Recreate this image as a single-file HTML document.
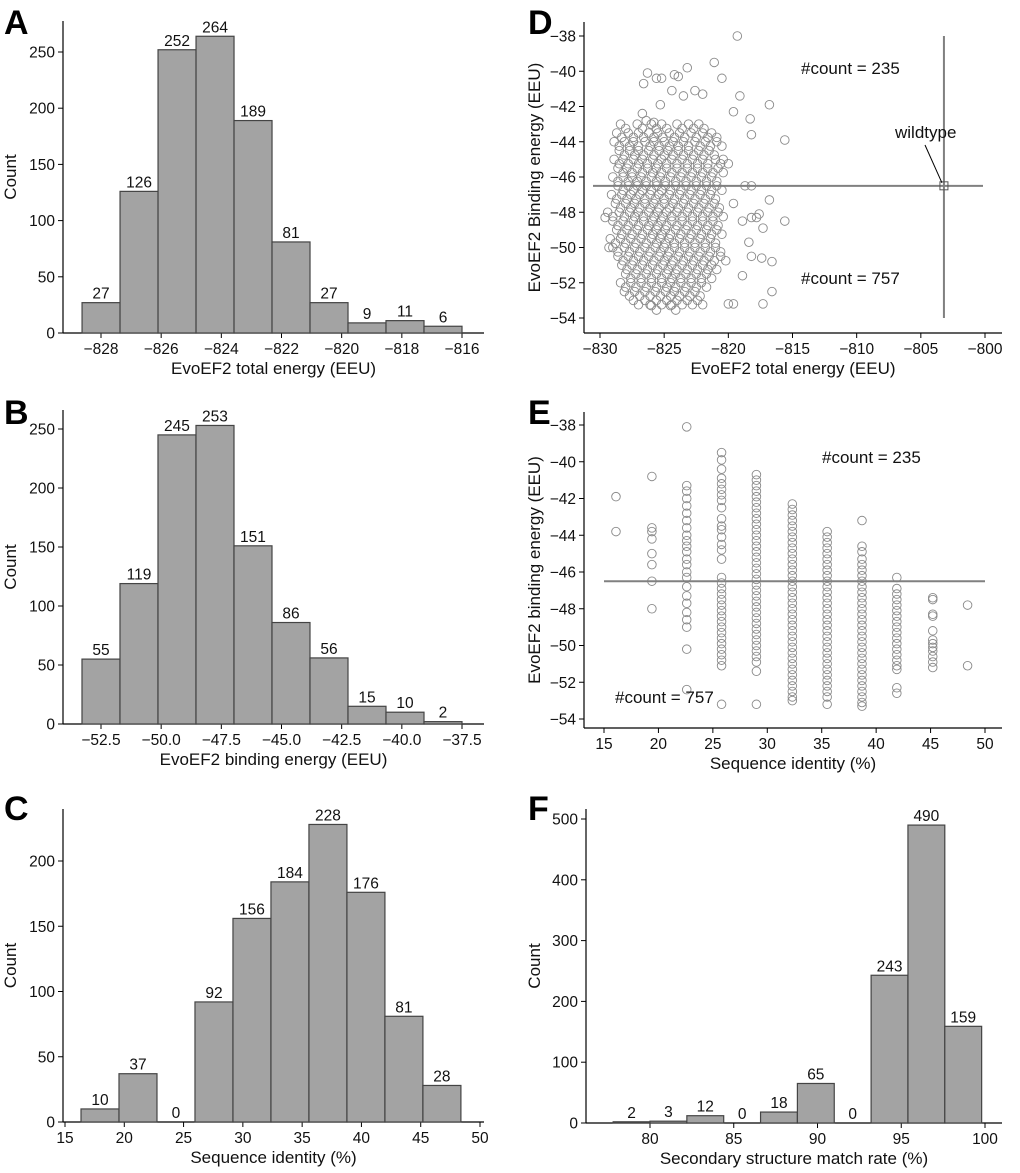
<!DOCTYPE html>
<html><head><meta charset="utf-8">
<style>
body{margin:0;background:#fff;}
svg{display:block;font-family:"Liberation Sans","DejaVu Sans",sans-serif;}
.t{font-size:15.5px;fill:#111;}
.al{font-size:17px;fill:#111;}
.pl{font-size:34px;font-weight:bold;fill:#000;}
</style></head>
<body>
<svg id="fig" width="1020" height="1173" viewBox="0 0 1020 1173">
<text class="pl" x="4" y="34">A</text>
<text class="pl" x="4" y="424">B</text>
<text class="pl" x="4" y="820">C</text>
<text class="pl" x="528" y="34">D</text>
<text class="pl" x="528" y="424">E</text>
<text class="pl" x="528" y="820">F</text>
</svg>
<script>
// ---- Data ----
const aCounts=[27,126,252,264,189,81,27,9,11,6];
const aStart=-828.63, aWidth=1.263;
const aXTicks=[-828,-826,-824,-822,-820,-818,-816];
const aYTicks=[0,50,100,150,200,250];
const bCounts=[55,119,245,253,151,86,56,15,10,2];
const bStart=-53.29, bWidth=1.579;
const bXTicks=[-52.5,-50.0,-47.5,-45.0,-42.5,-40.0,-37.5];
const bYTicks=[0,50,100,150,200,250];
const cCounts=[10,37,0,92,156,184,228,176,81,28];
const cStart=16.35, cWidth=3.204;
const cXTicks=[15,20,25,30,35,40,45,50];
const cYTicks=[0,50,100,150,200];
const fCounts=[2,3,12,0,18,65,0,243,490,159];
const fStart=77.8, fWidth=2.2;
const fXTicks=[80,85,90,95,100];
const fYTicks=[0,100,200,300,400,500];
const dXTicks=[-830,-825,-820,-815,-810,-805,-800];
const dYTicks=[-38,-40,-42,-44,-46,-48,-50,-52,-54];
const eXTicks=[15,20,25,30,35,40,45,50];
const eYTicks=[-38,-40,-42,-44,-46,-48,-50,-52,-54];
const dThreshold=-46.5, dWildX=-803.2;
const dBlobY=[-43.0,-43.5,-44.0,-44.5,-45.0,-45.5,-46.0,-46.5,-47.0,-47.5,-48.0,-48.5,-49.0,-49.5,-50.0,-50.5,-51.0,-51.5,-52.0,-52.5,-53.0,-53.3];
const dBlobX=[
[-828.4,-827.1,-826.0,-825.2,-824.0,-823.1,-822.3],
[-828.7,-827.8,-827.0,-826.2,-825.5,-824.6,-823.8,-822.9,-822.0,-821.3],
[-828.9,-828.1,-827.4,-826.5,-825.8,-825.0,-824.3,-823.5,-822.6,-821.8,-820.9],
[-828.5,-827.7,-827.0,-826.2,-825.4,-824.7,-823.9,-823.1,-822.3,-821.5],
[-828.9,-828.2,-827.4,-826.7,-825.9,-825.2,-824.4,-823.6,-822.8,-822.0,-821.0,-820.4],
[-828.6,-827.9,-827.1,-826.3,-825.6,-824.8,-824.0,-823.2,-822.4,-821.6,-820.8],
[-829.0,-828.2,-827.5,-826.8,-826.0,-825.3,-824.5,-823.7,-822.9,-822.1,-821.3],
[-828.6,-827.8,-827.1,-826.4,-825.6,-824.9,-824.1,-823.3,-822.5,-821.7,-820.9],
[-829.1,-828.3,-827.6,-826.9,-826.1,-825.4,-824.6,-823.8,-823.0,-822.2,-821.4],
[-828.8,-828.0,-827.3,-826.5,-825.8,-825.0,-824.3,-823.5,-822.7,-821.9,-821.1],
[-829.4,-828.5,-827.7,-827.0,-826.2,-825.5,-824.8,-824.0,-823.2,-822.4,-821.6,-820.8],
[-829.0,-828.2,-827.4,-826.6,-825.9,-825.2,-824.4,-823.6,-822.8,-822.0,-821.2],
[-828.7,-827.9,-827.1,-826.3,-825.6,-824.9,-824.1,-823.3,-822.5,-821.7,-820.9],
[-829.2,-828.4,-827.6,-826.8,-826.0,-825.3,-824.6,-823.8,-823.0,-822.2,-821.4],
[-829.0,-828.1,-827.3,-826.5,-825.7,-825.0,-824.2,-823.4,-822.6,-821.8,-821.0],
[-828.6,-827.8,-827.0,-826.2,-825.4,-824.7,-823.9,-823.1,-822.3,-821.5,-820.6],
[-828.3,-827.5,-826.7,-825.9,-825.1,-824.4,-823.6,-822.8,-822.0,-821.3],
[-828.0,-827.2,-826.4,-825.6,-824.8,-824.1,-823.3,-822.5,-821.7],
[-828.4,-827.6,-826.8,-826.0,-825.2,-824.5,-823.7,-822.9,-822.1],
[-828.1,-827.3,-826.5,-825.7,-824.9,-824.2,-823.4,-822.6],
[-827.4,-826.5,-825.6,-824.8,-824.0,-823.2,-822.4],
[-826.0,-824.5]];
const dOutX=[-819.3,-821.1,-823.2,-820.5,-819.1,-816.8,-818.3,-819.6,-818.2,-815.6,-816.8,-815.6,-818.9,-818.2,-817.8,-817.6,-817.3,-818.4,-818.2,-817.4,-816.6,-818.9,-816.6,-819.6,-817.3,-818.7,-818.2,-819.6,-826.3,-826.6,-825.6,-825.2,-824.2,-823.9,-824.4,-823.5,-822.6,-822.0,-825.3,-826.7,-826.4,-825.8,-829.6,-829.3,-820.0];
const dOutY=[-38.0,-39.5,-39.8,-40.4,-41.4,-41.9,-42.7,-42.3,-43.6,-43.9,-47.3,-48.5,-48.5,-48.3,-48.3,-48.1,-48.9,-49.7,-50.5,-50.6,-50.8,-51.6,-52.5,-53.2,-53.2,-46.5,-46.5,-47.5,-40.1,-40.7,-40.4,-40.4,-40.2,-40.3,-41.1,-41.4,-41.1,-41.3,-41.9,-42.4,-42.8,-42.9,-48.3,-50.0,-53.2];
const eColX=[16.1,19.4,22.6,25.8,29.0,32.3,35.5,38.7,41.9,45.2,48.4];
const eColY=[
[-41.9,-43.8],
[-40.8,-43.6,-43.8,-44.2,-45.0,-45.6,-46.5,-48.0],
[-38.1,-41.3,-41.6,-42.0,-42.4,-42.8,-43.2,-43.6,-44.0,-44.3,-44.6,-44.9,-45.3,-45.6,-46.0,-46.3,-46.8,-47.3,-47.7,-48.2,-48.6,-49.0,-50.2,-52.4],
[-39.5,-39.9,-40.4,-40.9,-41.2,-41.5,-41.8,-42.1,-42.5,-43.1,-43.5,-43.7,-44.1,-44.5,-44.8,-45.3,-46.3,-46.6,-46.9,-47.2,-47.5,-47.8,-48.1,-48.4,-48.7,-49.0,-49.3,-49.6,-49.9,-50.2,-50.5,-50.8,-51.1,-53.2],
[-40.7,-41.0,-41.3,-41.6,-41.9,-42.2,-42.5,-42.8,-43.1,-43.4,-43.7,-44.0,-44.3,-44.6,-44.9,-45.2,-45.5,-45.8,-46.1,-46.4,-46.7,-47.0,-47.3,-47.6,-47.9,-48.2,-48.5,-48.8,-49.1,-49.4,-49.7,-50.0,-50.3,-50.6,-50.9,-51.4,-53.2],
[-42.3,-42.6,-42.9,-43.2,-43.5,-43.8,-44.1,-44.4,-44.7,-45.0,-45.3,-45.6,-45.9,-46.2,-46.5,-46.8,-47.1,-47.4,-47.7,-48.0,-48.3,-48.6,-48.9,-49.2,-49.5,-49.8,-50.1,-50.4,-50.7,-51.0,-51.3,-51.6,-51.9,-52.2,-52.5,-52.8,-53.0],
[-43.8,-44.1,-44.4,-44.7,-45.0,-45.3,-45.6,-45.9,-46.2,-46.5,-46.8,-47.1,-47.4,-47.7,-48.0,-48.3,-48.6,-48.9,-49.2,-49.5,-49.8,-50.1,-50.4,-50.7,-51.0,-51.3,-51.6,-51.9,-52.2,-52.5,-52.8,-53.2],
[-43.2,-44.6,-44.9,-45.3,-45.6,-45.9,-46.2,-46.5,-46.8,-47.1,-47.4,-47.7,-48.0,-48.3,-48.6,-48.9,-49.2,-49.5,-49.8,-50.1,-50.4,-50.7,-51.0,-51.3,-51.6,-51.9,-52.2,-52.5,-52.8,-53.1,-53.3],
[-46.3,-46.9,-47.2,-47.5,-47.8,-48.1,-48.4,-48.7,-49.0,-49.3,-49.6,-49.9,-50.2,-50.5,-50.8,-51.1,-51.3,-52.3,-52.6],
[-47.4,-47.5,-48.3,-48.4,-49.2,-49.7,-49.9,-50.1,-50.3,-50.6,-50.9,-51.2],
[-47.8,-51.1]];

// ---- Drawing ----
const svg=document.getElementById('fig');
const NS='http://www.w3.org/2000/svg';
function mk(tag,attrs,parent){const e=document.createElementNS(NS,tag);for(const k in attrs)e.setAttribute(k,attrs[k]);(parent||svg).appendChild(e);return e;}
function fmt(v,dec){let s=dec?v.toFixed(1):String(v);return s.replace('-','\u2212');}
function txt(x,y,s,cls,anchor,parent){const e=mk('text',{x:x,y:y,'class':cls,'text-anchor':anchor||'middle'},parent);e.textContent=s;return e;}

function axes(p){
  const g=mk('g',{});
  
  
  const l=mk('line',{x1:p.left,y1:p.top,x2:p.left,y2:p.bottom,stroke:'#000','stroke-width':1.2},g);
  
  
  const b=mk('line',{x1:p.left,y1:p.bottom,x2:p.right,y2:p.bottom,stroke:'#000','stroke-width':1.2},g);
  
  
  p.xt.forEach(v=>{const x=p.sx(v);
    const t=mk('line',{x1:x,y1:p.bottom,x2:x,y2:p.bottom+5,stroke:'#000'},g);
    
    
    const lb=txt(x,p.bottom+21,fmt(v,p.xdec),'t','middle',g);
    
    });
  p.yt.forEach(v=>{const y=p.sy(v);
    const t=mk('line',{x1:p.left-5,y1:y,x2:p.left,y2:y,stroke:'#000'},g);
    
    
    const lb=txt(p.left-8,y+5.5,fmt(v,false),'t','end',g);
    
    });
  const xl=txt((p.left+p.right)/2,p.bottom+41,p.xlabel,'al','middle',g);
  
  
  const cy=(p.top+p.bottom)/2;
  const yl=txt(p.ylx,cy,p.ylabel,'al','middle',g);
  yl.setAttribute('transform','rotate(-90 '+p.ylx+' '+cy+')');
  
  
  return g;
}
function hist(p,counts,start,width){
  const g=axes(p);
  counts.forEach((c,i)=>{
    const x0=p.sx(start+i*width),x1=p.sx(start+(i+1)*width),y=p.sy(c);
    if(c>0){const r=mk('rect',{x:x0,y:y,width:x1-x0,height:p.sy(0)-y,fill:'#a3a3a3',stroke:'#444','stroke-width':1.2},g);
      
      }
    const lb=txt((x0+x1)/2,y-4,String(c),'t','middle',g);
    
    
  });
}
function lin(d0,d1,p0,p1){return v=>p0+(v-d0)*(p1-p0)/(d1-d0);}

hist({name:'panel-a-histogram',left:63,right:484,top:21,bottom:333,sx:lin(-828,-816,101,462),sy:lin(0,250,333,52),xt:aXTicks,yt:aYTicks,xlabel:'EvoEF2 total energy (EEU)',ylabel:'Count',ylx:16},aCounts,aStart,aWidth);
hist({name:'panel-b-histogram',left:63,right:484,top:410,bottom:724,sx:lin(-52.5,-37.5,101,462),sy:lin(0,250,724,429),xt:bXTicks,yt:bYTicks,xdec:true,xlabel:'EvoEF2 binding energy (EEU)',ylabel:'Count',ylx:16},bCounts,bStart,bWidth);
hist({name:'panel-c-histogram',left:63,right:484,top:809,bottom:1122,sx:lin(15,50,65,480),sy:lin(0,200,1122,861),xt:cXTicks,yt:cYTicks,xlabel:'Sequence identity (%)',ylabel:'Count',ylx:16},cCounts,cStart,cWidth);
hist({name:'panel-f-histogram',left:586,right:1002,top:809,bottom:1123,sx:lin(80,100,650,985),sy:lin(0,500,1123,819),xt:fXTicks,yt:fYTicks,xlabel:'Secondary structure match rate (%)',ylabel:'Count',ylx:540},fCounts,fStart,fWidth);

// Panel D
const pd={name:'panel-d-scatter',left:584,right:1002,top:22,bottom:333,sx:lin(-830,-800,600,985),sy:lin(-38,-54,36,318),xt:dXTicks,yt:dYTicks,xlabel:'EvoEF2 total energy (EEU)',ylabel:'EvoEF2 Binding energy (EEU)',ylx:540};
const gd=axes(pd);
function pt(g,x,y){const c=mk('circle',{cx:x,cy:y,r:4.3,fill:'none',stroke:'#8a8a8a','stroke-width':0.9},g);
  
  }
dBlobY.forEach((y,i)=>dBlobX[i].forEach(x=>{pt(gd,pd.sx(x),pd.sy(y));pt(gd,pd.sx(x+0.4),pd.sy(y-0.25));}));
dOutX.forEach((x,i)=>pt(gd,pd.sx(x),pd.sy(dOutY[i])));
let hl=mk('line',{x1:593,y1:pd.sy(dThreshold),x2:983,y2:pd.sy(dThreshold),stroke:'#808080','stroke-width':2},gd);


let vl=mk('line',{x1:pd.sx(dWildX),y1:36,x2:pd.sx(dWildX),y2:318,stroke:'#808080','stroke-width':2},gd);


let wm=mk('rect',{x:pd.sx(dWildX)-4,y:pd.sy(dThreshold)-4,width:8,height:8,fill:'none',stroke:'#555'},gd);


let wa=mk('line',{x1:925,y1:145,x2:pd.sx(dWildX)-2,y2:pd.sy(dThreshold)-3,stroke:'#000'},gd);


let wt=txt(895,138,'wildtype','al','start',gd);


let c1=txt(801,74,'#count = 235','al','start',gd);


let c2=txt(801,284,'#count = 757','al','start',gd);



// Panel E
const pe={name:'panel-e-scatter',left:584,right:1002,top:412,bottom:728,sx:lin(15,50,604,985),sy:lin(-38,-54,425,719),xt:eXTicks,yt:eYTicks,xlabel:'Sequence identity (%)',ylabel:'EvoEF2 binding energy (EEU)',ylx:540};
const ge=axes(pe);
eColX.forEach((x,i)=>eColY[i].forEach(y=>pt(ge,pe.sx(x),pe.sy(y))));
let he=mk('line',{x1:604,y1:pe.sy(-46.5),x2:985,y2:pe.sy(-46.5),stroke:'#808080','stroke-width':2},ge);


let e1=txt(822,463,'#count = 235','al','start',ge);


let e2=txt(615,703,'#count = 757','al','start',ge);


</script>
</body></html>
